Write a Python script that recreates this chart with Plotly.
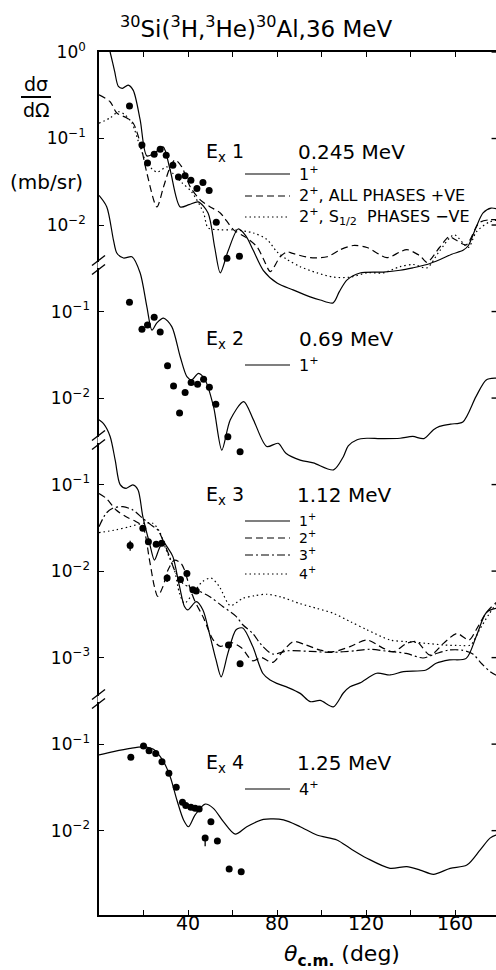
import math
import plotly.graph_objects as go

# ---------------------------------------------------------------
# 30Si(3H,3He)30Al at 36 MeV: angular distributions, four states
# ---------------------------------------------------------------

# Ex 1 (0.245 MeV)
p1_solid_theta = [0, 2.5, 5.0, 7.0, 8.7, 10.5, 13.1, 15.4, 18.5, 21.5, 25.0, 28.8, 32.0, 36.5, 40.5,
                  44.6, 49.0, 52.0, 54.5, 58.0, 62.5, 66.0, 69.3, 73.8, 80.0, 87.2, 94.9, 99.4, 105.2,
                  108.0, 111.5, 117.3, 127.7, 135.3, 141.0, 147.4, 153.3, 158.5, 163.6, 166.0, 169.5,
                  172.6, 176.2, 180.0]
p1_solid_xs = [3.0, 1.7, 1.0, 0.6, 0.40, 0.38, 0.415, 0.36, 0.164, 0.063, 0.068, 0.080, 0.043, 0.0162,
               0.0172, 0.0185, 0.0138, 0.0055, 0.0028, 0.0050, 0.0090, 0.0075, 0.0051, 0.0030, 0.00214,
               0.00178, 0.00148, 0.00136, 0.00126, 0.0017, 0.00232, 0.00279, 0.00286, 0.0030, 0.0032,
               0.0035, 0.0040, 0.0046, 0.0051, 0.0058, 0.0095, 0.0138, 0.0157, 0.015]

p1_dash_theta = [0, 5, 8, 12.5, 15.4, 18.5, 21.5, 26, 29, 32, 34.2, 37.2, 41, 45.5, 50, 54.5, 60.5, 66,
                 71, 74, 77, 81.4, 84.5, 87, 95, 102.5, 108.5, 114.3, 120.4, 129.4, 135.3, 138.4, 144.3,
                 147.4, 153, 157.3, 160.4, 165, 170.8, 175.3, 180]
p1_dash_xs = [0.32, 0.266, 0.197, 0.173, 0.15, 0.089, 0.040, 0.0162, 0.0276, 0.047, 0.0565, 0.047,
              0.0276, 0.0195, 0.0162, 0.0138, 0.0088, 0.0072, 0.0056, 0.0040, 0.0029, 0.0043, 0.0049,
              0.0047, 0.0042, 0.0043, 0.0052, 0.0058, 0.0055, 0.0042, 0.0049, 0.0052, 0.0044, 0.0037,
              0.0055, 0.0073, 0.0067, 0.0059, 0.0106, 0.0115, 0.0115]

p1_dot_theta = [0, 5, 8.8, 11.8, 14.8, 18.5, 21.5, 26, 30.5, 33, 37.2, 41.7, 47, 49, 54.5, 60.5, 69.4,
                75.5, 80, 84.5, 90.4, 98, 105.3, 113, 120.5, 127.7, 135.3, 141.2, 147.4, 153, 159.6,
                165.9, 169.5, 175.3, 180]
p1_dot_xs = [0.15, 0.173, 0.204, 0.187, 0.151, 0.080, 0.052, 0.041, 0.047, 0.040, 0.031, 0.024, 0.0138,
             0.0093, 0.0088, 0.0088, 0.0081, 0.0068, 0.0049, 0.0040, 0.0033, 0.0028, 0.0025, 0.0025,
             0.0028, 0.0028, 0.0033, 0.0035, 0.0032, 0.0050, 0.0077, 0.0055, 0.0083, 0.0108, 0.0115]

p1_data_theta = [13.7, 19.3, 21.8, 24.8, 27.5, 30.2, 33.2, 35.7, 38.7, 41.3, 44.0, 46.7, 49.5, 52.7,
                 57.5, 63.1]
p1_data_xs = [0.238, 0.084, 0.052, 0.066, 0.075, 0.064, 0.049, 0.036, 0.0372, 0.033, 0.0264, 0.031,
              0.025, 0.0108, 0.00414, 0.00437]

# Ex 2 (0.69 MeV)
p2_solid_theta = [0, 3.5, 6.5, 8, 11, 14.8, 18.5, 21.5, 23.8, 26, 29, 32.7, 36.5, 39.5, 41.7, 44.7, 47.7,
                  51.5, 55.2, 59, 65, 69.4, 75.4, 80.5, 84.0, 90.4, 96.3, 105.4, 109.8, 112.0, 116.0,
                  120.4, 126.3, 135.3, 141.0, 146.0, 150.3, 153.0, 158.0, 163.5, 169.4, 174.0, 178.4, 180]
p2_solid_xs = [2.2, 1.62, 0.67, 0.475, 0.416, 0.43, 0.279, 0.114, 0.061, 0.074, 0.084, 0.067, 0.030,
               0.0177, 0.0162, 0.0193, 0.0162, 0.0079, 0.0025, 0.0056, 0.0091, 0.0056, 0.00275, 0.0030,
               0.0023, 0.00192, 0.00178, 0.00148, 0.0021, 0.0028, 0.0033, 0.00343, 0.0034, 0.00343,
               0.0036, 0.0034, 0.0043, 0.0047, 0.0050, 0.0053, 0.0104, 0.0162, 0.017, 0.017]

p2_data_theta = [13.7, 19.3, 21.8, 24.8, 27.5, 30.8, 33.5, 36.2, 38.7, 41.4, 44.3, 47.0, 49.6, 52.5,
                 57.9, 63.4]
p2_data_xs = [0.128, 0.0624, 0.070, 0.086, 0.058, 0.0237, 0.0138, 0.0067, 0.0116, 0.0151, 0.0144,
              0.0165, 0.0133, 0.0085, 0.00358, 0.0024]

# Ex 3 (1.12 MeV)
p3_solid_theta = [0, 2.2, 5, 7.3, 9.5, 12.2, 15.2, 17.5, 19.7, 22.7, 24.9, 26.8, 28.7, 31, 33.2, 36.2,
                  38.4, 39.9, 43.7, 46.7, 49.6, 52.6, 54.9, 57.9, 61.6, 64.6, 69.1, 73.6, 76.9, 79.9, 85,
                  90.4, 94.9, 99.4, 105.3, 109.8, 112.8, 117.3, 124.8, 130.8, 136.8, 147, 151.5, 157.5,
                  165, 169.5, 174, 178.4, 180]
p3_solid_xs = [0.56, 0.50, 0.36, 0.19, 0.10, 0.0906, 0.099, 0.087, 0.0426, 0.021, 0.0134, 0.0175,
               0.0219, 0.0184, 0.0147, 0.0066, 0.0039, 0.00356, 0.00444, 0.00356, 0.00191, 0.00094,
               0.00060, 0.00112, 0.0021, 0.0022, 0.00134, 0.00066, 0.00055, 0.000504, 0.00045,
               0.000386, 0.00031, 0.00032, 0.00027, 0.00039, 0.00046, 0.00051, 0.00066, 0.00063,
               0.00069, 0.00072, 0.00086, 0.00094, 0.00098, 0.00175, 0.0033, 0.0037, 0.0037]

p3_dash_theta = [0, 3.2, 7.7, 12.2, 16.7, 19.7, 22.7, 24.9, 26.4, 28.7, 31, 33.9, 36.9, 38.4, 40.7, 42.9,
                 46.9, 51.3, 54.5, 59, 64, 69, 73, 78, 83, 87.4, 93, 99.4, 105.2, 112.8, 120.4, 127.8,
                 132.3, 138.3, 142.8, 148.8, 154.8, 160.8, 166.3, 169.5, 174, 178.4, 180]
p3_dash_xs = [0.079, 0.0695, 0.0509, 0.0425, 0.0372, 0.0326, 0.0134, 0.0066, 0.0051, 0.0066, 0.0103,
              0.0134, 0.0123, 0.0103, 0.0066, 0.0046, 0.0029, 0.0016, 0.00135, 0.0015, 0.0013, 0.00092,
              0.0010, 0.00088, 0.00122, 0.00153, 0.0014, 0.00122, 0.00117, 0.00134, 0.0016, 0.00128,
              0.00117, 0.00146, 0.00153, 0.00107, 0.00146, 0.0019, 0.0016, 0.0021, 0.0033, 0.0043,
              0.0045]

p3_dashdot_theta = [0, 3.2, 6.2, 10.7, 15.2, 19.7, 23.5, 26.4, 28.7, 31.7, 33.9, 37.7, 43.7, 49.6, 55.6,
                    61.6, 64.6, 69.1, 73, 78, 85, 95, 105, 115, 122, 130, 138, 145.6, 151, 157, 163,
                    168, 172, 176, 180]
p3_dashdot_xs = [0.0326, 0.0466, 0.0532, 0.0556, 0.0509, 0.0407, 0.034, 0.0299, 0.0229, 0.0147, 0.0103,
                 0.0072, 0.0061, 0.0051, 0.0039, 0.0030, 0.0024, 0.0019, 0.0014, 0.0011, 0.0012,
                 0.00118, 0.00115, 0.0012, 0.00125, 0.00118, 0.00112, 0.00099, 0.0011, 0.00122,
                 0.00122, 0.0011, 0.00085, 0.00068, 0.0006]

p3_dot_theta = [0, 7.7, 13.7, 19.7, 24.2, 27.2, 30.2, 33.9, 36.2, 38.4, 42.2, 46.6, 50.4, 54.1, 59,
                64.6, 70, 75.4, 82, 90.4, 98, 105.3, 113, 120.4, 130.8, 138.3, 147.3, 155, 162.3, 167,
                171, 175, 178.4, 180]
p3_dot_xs = [0.0278, 0.030, 0.0326, 0.0357, 0.0357, 0.0286, 0.0175, 0.0103, 0.0055, 0.00425, 0.0055,
             0.0076, 0.0083, 0.0066, 0.0040, 0.00485, 0.0052, 0.0054, 0.0050, 0.0042, 0.0037, 0.00325,
             0.0026, 0.0021, 0.0016, 0.00153, 0.00146, 0.0014, 0.00138, 0.0014, 0.0021, 0.0031, 0.0041,
             0.0043]

p3_data_theta = [14.0, 19.7, 22.2, 25.7, 28.2, 30.6, 36.6, 39.5, 42.2, 43.7, 58.2, 63.4]
p3_data_xs = [0.0197, 0.0313, 0.0219, 0.0204, 0.021, 0.0083, 0.0080, 0.0094, 0.0061, 0.0059, 0.0014,
              0.00085]
p3_err_plus = [0.0028, 0, 0, 0, 0, 0.0009, 0, 0, 0, 0, 0, 0]
p3_err_minus = [0.0025, 0, 0, 0, 0, 0.0008, 0, 0, 0, 0, 0, 0]

# Ex 4 (1.25 MeV)
p4_solid_theta = [0, 6.5, 14, 20, 24.5, 29, 32, 35, 38, 40.2, 43.2, 47.7, 51.4, 55.9, 61.2, 66.4, 73.9,
                  82.9, 90.4, 97.9, 106.9, 112.8, 120.4, 130.8, 138.3, 144.3, 150.3, 157.8, 165.3, 171.3,
                  175.7, 178.4, 180]
p4_solid_xs = [0.075, 0.082, 0.0895, 0.093, 0.087, 0.0626, 0.042, 0.0226, 0.0133, 0.0111, 0.0152,
               0.0203, 0.0181, 0.0127, 0.0091, 0.0111, 0.0135, 0.0133, 0.0111, 0.0089, 0.0078, 0.00625,
               0.0048, 0.00367, 0.00384, 0.0035, 0.00313, 0.00367, 0.0040, 0.006, 0.0082, 0.0089, 0.009]

p4_data_theta = [14.3, 20.0, 22.5, 25.5, 28.3, 31.4, 34.7, 37.5, 39.0, 41.3, 43.2, 45.0, 47.7, 50.3,
                 53.2, 58.5, 63.9]
p4_data_xs = [0.0705, 0.0953, 0.084, 0.078, 0.0626, 0.046, 0.0317, 0.0213, 0.0195, 0.0186, 0.0181,
              0.0178, 0.0082, 0.0127, 0.0076, 0.0036, 0.00336]
p4_err_plus = [0, 0, 0, 0, 0, 0, 0, 0, 0, 0, 0, 0, 0.0007, 0, 0, 0, 0]
p4_err_minus = [0, 0, 0, 0, 0, 0, 0, 0, 0, 0, 0, 0, 0.0016, 0, 0, 0, 0]

# tick labels of each panel (log axes, one decade apart)
p1_ticks = [1, 0.1, 0.01]
p2_ticks = [0.1, 0.01]
p3_ticks = [0.1, 0.01, 0.001]
p4_ticks = [0.1, 0.01]
x_ticks = [20, 40, 60, 80, 100, 120, 140, 160]
x_ticktext = ["", "40", "", "80", "", "120", "", "160"]

# ---------------------------------------------------------------
# geometry: each panel has its own log axis, stacked and offset
# ---------------------------------------------------------------
W, H = 496, 970
ML, MR, MT, MB = 99, 0, 52, 55
PW, PH = W - ML - MR, H - MT - MB
DECADES = 9.975                  # decades spanned by the full plot height
PANEL_TOP = [0, 2, 4, 7]         # log10 value at the top edge for each panel
X_MAX = 178.4

FONT = "DejaVu Sans"
INK = "black"
LW = 1.2
DASH = "7px,4px"
DOT = "1.5px,3px"
DASHDOT = "8px,3px,2px,3px"


def fx(px):
    return (px - ML) / PW


def fy(py):
    return (H - MB - py) / PH


def sup(v):
    e = int(round(math.log10(v)))
    return "10<sup>%s</sup>" % ("0" if e == 0 else "\u2212%d" % (-e))


fig = go.Figure()


def curve(theta, xs, axis, dash):
    fig.add_trace(go.Scatter(x=theta, y=xs, yaxis=axis, mode="lines",
                             line=dict(color=INK, width=LW, dash=dash, shape="spline", smoothing=0.8),
                             hoverinfo="skip", showlegend=False))


def points(theta, xs, axis, ep=None, em=None):
    err = None
    if ep is not None:
        err = dict(type="data", symmetric=False, array=ep, arrayminus=em,
                   color=INK, thickness=1.3, width=0)
    fig.add_trace(go.Scatter(x=theta, y=xs, yaxis=axis, mode="markers",
                             marker=dict(color=INK, size=7, line=dict(width=0)),
                             error_y=err, cliponaxis=False, showlegend=False))


curve(p1_solid_theta, p1_solid_xs, "y", "solid")
curve(p1_dash_theta, p1_dash_xs, "y", DASH)
curve(p1_dot_theta, p1_dot_xs, "y", DOT)
points(p1_data_theta, p1_data_xs, "y")

curve(p2_solid_theta, p2_solid_xs, "y2", "solid")
points(p2_data_theta, p2_data_xs, "y2")

curve(p3_solid_theta, p3_solid_xs, "y3", "solid")
curve(p3_dash_theta, p3_dash_xs, "y3", DASH)
curve(p3_dashdot_theta, p3_dashdot_xs, "y3", DASHDOT)
curve(p3_dot_theta, p3_dot_xs, "y3", DOT)
points(p3_data_theta, p3_data_xs, "y3", p3_err_plus, p3_err_minus)

curve(p4_solid_theta, p4_solid_xs, "y4", "solid")
points(p4_data_theta, p4_data_xs, "y4", p4_err_plus, p4_err_minus)

tick_font = dict(family=FONT, size=17, color=INK)


def yaxis(top, ticks, primary=False):
    ax = dict(type="log", range=[top - DECADES, top], domain=[0, 1],
              tickvals=ticks, ticktext=[sup(t) for t in ticks],
              ticks="inside", ticklen=5, tickwidth=1.4, tickcolor=INK,
              ticklabelstandoff=8, tickfont=tick_font,
              showgrid=False, zeroline=False, fixedrange=True)
    if primary:
        ax.update(showline=True, linecolor=INK, linewidth=1.6)
    else:
        ax.update(overlaying="y", anchor="x", side="left", showline=False)
    return ax


fig.update_layout(
    width=W, height=H,
    margin=dict(l=ML, r=MR, t=MT, b=MB, pad=0),
    paper_bgcolor="white", plot_bgcolor="white",
    font=dict(family=FONT, color=INK),
    xaxis=dict(range=[0, X_MAX], tickvals=x_ticks, ticktext=x_ticktext,
               ticks="inside", ticklen=5, tickwidth=1.4, tickcolor=INK,
               showline=True, linecolor=INK, linewidth=1.6, mirror="ticks",
               ticklabelstandoff=-10, tickfont=dict(family=FONT, size=19, color=INK),
               showgrid=False, zeroline=False, fixedrange=True),
    yaxis=yaxis(PANEL_TOP[0], p1_ticks, primary=True),
    yaxis2=yaxis(PANEL_TOP[1], p2_ticks),
    yaxis3=yaxis(PANEL_TOP[2], p3_ticks),
    yaxis4=yaxis(PANEL_TOP[3], p4_ticks),
)

shapes = []
# inward ticks on the right-hand frame, one at each labelled decade
for ax, ticks in (("y", p1_ticks), ("y2", p2_ticks), ("y3", p3_ticks), ("y4", p4_ticks)):
    for t in ticks:
        shapes.append(dict(type="line", xref="x", yref=ax, x0=X_MAX - 2.0, x1=X_MAX, y0=t, y1=t,
                           line=dict(color=INK, width=1.4)))

# axis breaks between the panels
for yb in (265, 440, 699):
    shapes.append(dict(type="line", xref="paper", yref="paper", x0=fx(ML), x1=fx(ML),
                       y0=fy(yb - 3), y1=fy(yb + 3), line=dict(color="white", width=3)))
    for off in (-4.5, 4.5):
        shapes.append(dict(type="line", xref="paper", yref="paper",
                           x0=fx(ML - 7), y0=fy(yb + off + 5), x1=fx(ML + 6), y1=fy(yb + off - 5),
                           line=dict(color=INK, width=1.4)))

# fraction bar of the ordinate label
shapes.append(dict(type="line", xref="paper", yref="paper", x0=fx(21), x1=fx(51), y0=fy(97), y1=fy(97),
                   line=dict(color=INK, width=2)))

annotations = []


def text(s, px, py, size, anchor="left", **kw):
    annotations.append(dict(text=s, x=fx(px), y=fy(py), xref="paper", yref="paper",
                            xanchor=anchor, yanchor="middle", showarrow=False,
                            font=dict(family=FONT, size=size, color=INK), **kw))


def key(px, py, dash, label, size=16):
    shapes.append(dict(type="line", xref="paper", yref="paper", x0=fx(px), x1=fx(px + 45),
                       y0=fy(py), y1=fy(py), line=dict(color=INK, width=LW, dash=dash)))
    text(label, px + 52, py - 1, size)


# title and axis titles
text("<sup>30</sup>Si(<sup>3</sup>H,<sup>3</sup>He)<sup>30</sup>Al,36 MeV", 256, 27, 23, anchor="center")
text("d\u03c3", 36, 84, 19, anchor="center")
text("d\u03a9", 36, 110, 19, anchor="center")
text("(mb/sr)", 46, 182, 20, anchor="center")
text("<i>\u03b8</i><sub><b>c.m.</b></sub> (deg)", 342, 955, 22, anchor="center")

# panel captions and keys
text("E<sub>x</sub> 1", 204, 152, 19)
text("0.245 MeV", 296, 152, 20)
key(245, 174, "solid", "1<sup>+</sup>")
key(245, 196, DASH, "2<sup>+</sup>, ALL PHASES +VE")
key(245, 217, DOT, "2<sup>+</sup>, S<sub>1/2</sub>  PHASES \u2212VE")

text("E<sub>x</sub> 2", 204, 339, 19)
text("0.69 MeV", 297, 339, 20)
key(245, 365, "solid", "1<sup>+</sup>")

text("E<sub>x</sub> 3", 204, 495, 19)
text("1.12 MeV", 295, 495, 20)
key(245, 521, "solid", "1<sup>+</sup>", 14)
key(245, 538, DASH, "2<sup>+</sup>", 14)
key(245, 555, DASHDOT, "3<sup>+</sup>", 14)
key(245, 574, DOT, "4<sup>+</sup>", 14)

text("E<sub>x</sub> 4", 204, 763, 19)
text("1.25 MeV", 295, 763, 20)
key(245, 789, "solid", "4<sup>+</sup>")

fig.update_layout(shapes=shapes, annotations=annotations)

fig.write_html("out.html")
